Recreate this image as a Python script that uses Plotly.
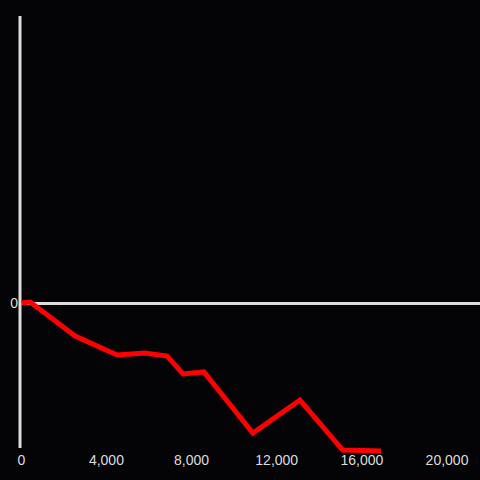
import plotly.graph_objects as go

x_vals = [0, 420, 2530, 4500, 5810, 6850, 7600, 8580, 10880, 13090, 15100, 16900]
y_vals = [0, 0.007, -0.229, -0.361, -0.347, -0.368, -0.493, -0.479, -0.903, -0.674, -1.021, -1.028]
x_ticks = [0, 4000, 8000, 12000, 16000, 20000]
x_tick_labels = ["0", "4,000", "8,000", "12,000", "16,000", "20,000"]

FONT = "Liberation Sans, Arial, sans-serif"
AXIS_COLOR = "#dddddd"

fig = go.Figure()
fig.add_trace(go.Scatter(x=x_vals, y=y_vals, mode="lines",
                         line=dict(color="#ff0000", width=5),
                         hoverinfo="skip"))

# y axis line drawn as a shape so the data line can extend slightly below it
fig.add_shape(type="line", xref="paper", yref="paper", x0=0, x1=0, y0=8 / 440, y1=1,
              line=dict(color=AXIS_COLOR, width=3), layer="below")

fig.update_layout(
    width=480, height=480,
    margin=dict(l=20, r=0, t=16, b=24),
    paper_bgcolor="#040306", plot_bgcolor="#040306",
    showlegend=False,
    font=dict(family=FONT, size=14, color=AXIS_COLOR),
)
fig.update_xaxes(range=[-60, 21550], tickvals=x_ticks, ticktext=x_tick_labels,
                 showgrid=False, zeroline=False, showline=False, ticks="",
                 ticklabelstandoff=-6,
                 tickfont=dict(family=FONT, color=AXIS_COLOR, size=14))
fig.update_yaxes(range=[-1.0625, 1.993], tickvals=[0], ticktext=["0"],
                 showgrid=False, zeroline=True, zerolinecolor=AXIS_COLOR, zerolinewidth=3,
                 showline=False, ticks="", ticklabelstandoff=1,
                 tickfont=dict(family=FONT, color=AXIS_COLOR, size=14))

fig.write_html("out.html", config={"displayModeBar": False},
               post_script="document.body.style.margin='0';document.body.style.overflow='hidden';")
